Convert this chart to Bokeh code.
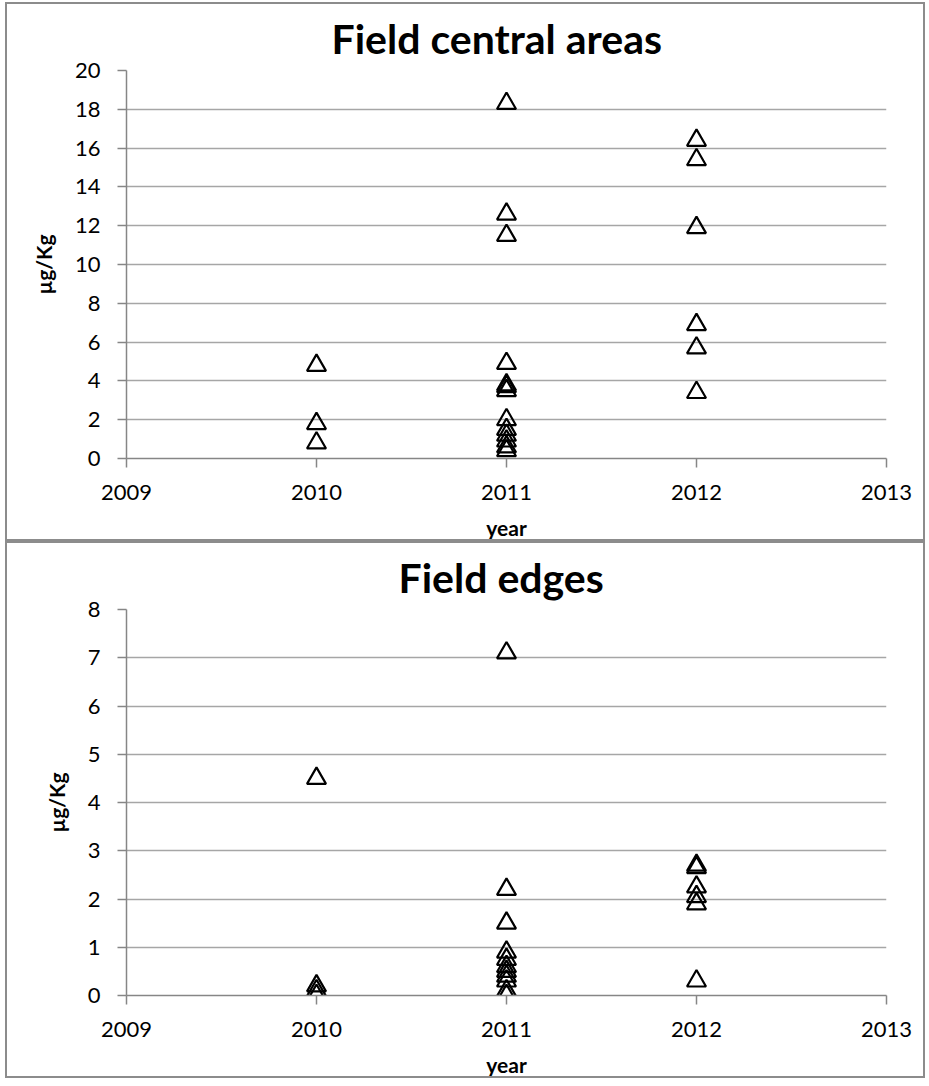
from bokeh.plotting import figure
from bokeh.layouts import column
from bokeh.models import Range1d, FixedTicker
from bokeh.embed import file_html
from bokeh.resources import INLINE

# ---- data ----
years_axis = [2009, 2010, 2011, 2012, 2013]

central_2010 = [4.8, 1.8, 0.8]
central_2011 = [18.3, 12.6, 11.5, 4.9, 3.8, 3.7, 3.5, 2.0, 1.5, 1.2, 0.9, 0.6, 0.4]
central_2012 = [16.4, 15.4, 11.9, 6.9, 5.7, 3.4]
central_ticks = [0, 2, 4, 6, 8, 10, 12, 14, 16, 18, 20]

edges_2010 = [4.5, 0.2, 0.1, 0.0]
edges_2011 = [7.1, 2.2, 1.5, 0.9, 0.75, 0.6, 0.5, 0.4, 0.3, 0.1, 0.0]
edges_2012 = [2.7, 2.65, 2.25, 2.05, 1.9, 0.3]
edges_ticks = [0, 1, 2, 3, 4, 5, 6, 7, 8]

FONT = "Lato"
GRID = "#a6a6a6"
AXIS = "#868686"


def build(title, title_offset, title_standoff, d2010, d2011, d2012, ymax, yticks,
          height, top, bottom_space, lab_standoff, axlab_standoff):
    xs = [2010] * len(d2010) + [2011] * len(d2011) + [2012] * len(d2012)
    ys = list(d2010) + list(d2011) + list(d2012)
    p = figure(width=920, height=height, output_backend="svg", toolbar_location=None,
               x_range=Range1d(2009, 2013), y_range=Range1d(0, ymax),
               min_border_left=119, min_border_right=41,
               min_border_top=top, min_border_bottom=bottom_space,
               styles={"border": "2px solid #8c8c8c"})
    p.outline_line_color = None
    p.background_fill_color = "white"
    p.border_fill_color = "white"

    p.title.text = title
    p.title.text_font = FONT
    p.title.text_font_style = "bold"
    p.title.text_font_size = "41px"
    p.title.text_color = "black"
    p.title.align = "left"
    p.title.offset = title_offset
    p.title.standoff = title_standoff

    p.xgrid.grid_line_color = None
    p.ygrid.grid_line_color = GRID
    p.ygrid.grid_line_width = 1.5

    p.xaxis.ticker = FixedTicker(ticks=years_axis)
    p.yaxis.ticker = FixedTicker(ticks=yticks)
    for ax in (p.xaxis[0], p.yaxis[0]):
        ax.axis_line_color = AXIS
        ax.axis_line_width = 1.5
        ax.major_tick_line_color = AXIS
        ax.major_tick_line_width = 1.5
        ax.major_tick_out = 9
        ax.major_tick_in = 0
        ax.minor_tick_line_color = None
        ax.major_label_text_font = FONT
        ax.major_label_text_font_size = "22px"
        ax.major_label_text_color = "black"
        ax.axis_label_text_font = FONT
        ax.axis_label_text_font_style = "bold"
        ax.axis_label_text_font_size = "21px"
        ax.axis_label_text_color = "black"
    p.xaxis.axis_label = "year"
    p.xaxis.major_label_standoff = lab_standoff
    p.xaxis.axis_label_standoff = axlab_standoff
    p.yaxis.axis_label = "µg/Kg"
    p.yaxis.major_label_standoff = 17
    p.yaxis.axis_label_standoff = 16

    p.scatter(xs, ys, marker="triangle", size=19, line_color="black",
              line_width=2.2, fill_color=None)
    return p


p1 = build("Field central areas", 205, 15, central_2010, central_2011, central_2012,
           20, central_ticks, 539, 65, 85, 17, 12)
p2 = build("Field edges", 272, 15, edges_2010, edges_2011, edges_2012,
           8, edges_ticks, 537, 64, 85, 17, 12)

layout = column(p1, p2, spacing=0, styles={"margin-left": "5px", "margin-top": "2px"})
open("out.html", "w").write(file_html(layout, INLINE))
